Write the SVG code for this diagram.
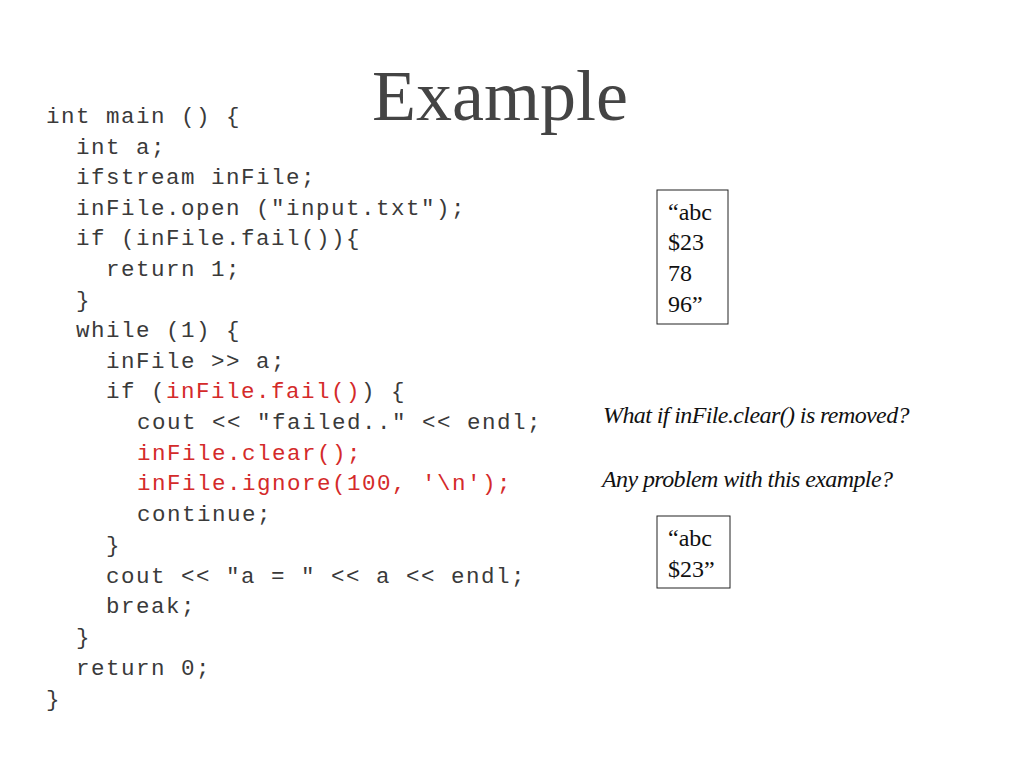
<svg xmlns="http://www.w3.org/2000/svg" width="1024" height="768" viewBox="0 0 1024 768">
<style>
.c{font-family:"Liberation Mono",monospace;font-size:22.5px;letter-spacing:1.5px;fill:#3a3a3a;white-space:pre}
.r{fill:#d42a2a}
.s{font-family:"Liberation Serif",serif;font-size:24px;fill:#111}
.i{font-family:"Liberation Serif",serif;font-size:24px;font-style:italic;letter-spacing:-0.6px;fill:#111}
.b{fill:none;stroke:#222;stroke-width:1}
</style>
<rect width="1024" height="768" fill="#fff"/>
<text x="500" y="120" text-anchor="middle" font-family="Liberation Serif,serif" font-size="72" fill="#444">Example</text>
<g id="code">
<text class="c" x="46" y="123">int main () {</text>
<text class="c" x="76" y="154">int a;</text>
<text class="c" x="76" y="184">ifstream inFile;</text>
<text class="c" x="76" y="215">inFile.open ("input.txt");</text>
<text class="c" x="76" y="245">if (inFile.fail()){</text>
<text class="c" x="106" y="276">return 1;</text>
<text class="c" x="76" y="307">}</text>
<text class="c" x="76" y="337">while (1) {</text>
<text class="c" x="106" y="368">inFile &gt;&gt; a;</text>
<text class="c" x="106" y="398">if (<tspan class="r">inFile.fail()</tspan>) {</text>
<text class="c" x="137" y="429">cout &lt;&lt; "failed.." &lt;&lt; endl;</text>
<text class="c r" x="137" y="460">inFile.clear();</text>
<text class="c r" x="137" y="490">inFile.ignore(100, '\n');</text>
<text class="c" x="137" y="521">continue;</text>
<text class="c" x="106" y="552">}</text>
<text class="c" x="106" y="583">cout &lt;&lt; "a = " &lt;&lt; a &lt;&lt; endl;</text>
<text class="c" x="106" y="613">break;</text>
<text class="c" x="76" y="644">}</text>
<text class="c" x="76" y="675">return 0;</text>
<text class="c" x="46" y="706">}</text>
</g>
<g id="box1">
<rect class="b" x="657" y="190" width="71" height="134"/>
<text class="s" x="668" y="220">“abc</text>
<text class="s" x="668" y="250">$23</text>
<text class="s" x="668" y="281">78</text>
<text class="s" x="668" y="312">96”</text>
</g>
<g id="notes">
<text class="i" x="603" y="423">What if inFile.clear() is removed?</text>
<text class="i" x="602" y="487">Any problem with this example?</text>
</g>
<g id="box2">
<rect class="b" x="657" y="516" width="73" height="72"/>
<text class="s" x="668" y="546">“abc</text>
<text class="s" x="668" y="577">$23”</text>
</g>
</svg>
